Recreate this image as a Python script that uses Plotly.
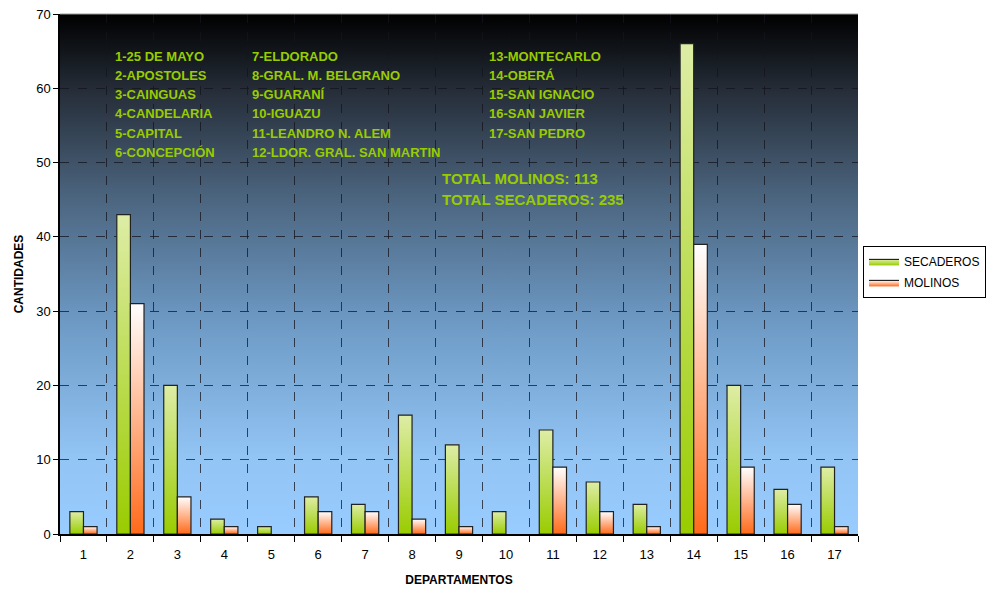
import base64
import plotly.graph_objects as go

departamentos = [str(i) for i in range(1, 18)]
secaderos = [3, 43, 20, 2, 1, 5, 4, 16, 12, 3, 14, 7, 4, 66, 20, 6, 9]
molinos = [1, 31, 5, 1, 0, 3, 3, 2, 1, 0, 9, 3, 1, 39, 9, 4, 1]
nombres_col1 = ["1-25 DE MAYO", "2-APOSTOLES", "3-CAINGUAS", "4-CANDELARIA", "5-CAPITAL", "6-CONCEPCIÓN"]
nombres_col2 = ["7-ELDORADO", "8-GRAL. M. BELGRANO", "9-GUARANÍ", "10-IGUAZU", "11-LEANDRO N. ALEM", "12-LDOR. GRAL. SAN MARTIN"]
nombres_col3 = ["13-MONTECARLO", "14-OBERÁ", "15-SAN IGNACIO", "16-SAN JAVIER", "17-SAN PEDRO"]
totales = ["TOTAL MOLINOS: 113", "TOTAL SECADEROS: 235"]

FONT = "Arial, Liberation Sans, sans-serif"
W = 0.29  # bar width in category units

fig = go.Figure()

series = [
    ("SECADEROS", secaderos, -W, "#99cc00", "#deeda6"),
    ("MOLINOS", molinos, 0.0, "#ff6a1a", "#ffffff"),
]
for name, vals, off, bottom, top in series:
    first = True
    for i, v in enumerate(vals):
        c = i + 1
        if v <= 0:
            continue
        x0, x1 = c + off, c + off + W
        fig.add_trace(go.Scatter(
            x=[x0, x0, x1, x1, x0], y=[0, v, v, 0, 0],
            mode="lines", fill="toself",
            fillgradient=dict(type="vertical", start=0, stop=v,
                              colorscale=[[0, bottom], [1, top]]),
            line=dict(color="#222222", width=1.2),
            name=name, legendgroup=name, showlegend=first,
            hoverinfo="text", text=f"{name}: {v}",
        ))
        first = False

svg = """<svg xmlns='http://www.w3.org/2000/svg' width='100' height='100' preserveAspectRatio='none'>
<defs><linearGradient id='g' x1='0' y1='0' x2='0' y2='1'>
<stop offset='0' stop-color='#000000'/>
<stop offset='0.15' stop-color='#262e39'/>
<stop offset='0.35' stop-color='#4b647e'/>
<stop offset='0.6' stop-color='#6e9bc6'/>
<stop offset='0.85' stop-color='#92c4f4'/>
<stop offset='1' stop-color='#99ccff'/>
</linearGradient></defs>
<rect width='100' height='100' fill='url(#g)'/></svg>"""
src = "data:image/svg+xml;base64," + base64.b64encode(svg.encode()).decode()
fig.add_layout_image(dict(source=src, xref="paper", yref="paper", x=0, y=1,
                          sizex=1, sizey=1, xanchor="left", yanchor="top",
                          sizing="stretch", layer="below"))

annots = []
x_cols = [(113 - 60) / 798, (250 - 60) / 798, (487 - 60) / 798]
for col, labels in zip(x_cols, [nombres_col1, nombres_col2, nombres_col3]):
    for j, t in enumerate(labels):
        annots.append(dict(x=col, y=0.919 - j * 0.0371, xref="paper", yref="paper",
                           text=f"<b>{t}</b>", showarrow=False, xanchor="left", yanchor="middle",
                           font=dict(family=FONT, size=13, color="#99cc00")))
for j, t in enumerate(totales):
    annots.append(dict(x=(440 - 60) / 798, y=0.6846 - j * 0.0404, xref="paper", yref="paper",
                       text=f"<b>{t}</b>", showarrow=False, xanchor="left", yanchor="middle",
                       font=dict(family=FONT, size=15, color="#99cc00")))

fig.update_layout(
    width=988, height=591,
    margin=dict(l=60, r=130, t=14, b=57, autoexpand=False),
    paper_bgcolor="white", plot_bgcolor="rgba(0,0,0,0)",
    font=dict(family=FONT, size=13, color="black"),
    annotations=annots,
    showlegend=True,
    legend=dict(x=1.0063, y=0.504, xanchor="left", yanchor="middle",
                bordercolor="black", borderwidth=1, bgcolor="white",
                font=dict(family=FONT, size=12), tracegroupgap=2, itemwidth=30),
    xaxis=dict(range=[0.5, 17.5], tickmode="array", tickvals=list(range(1, 18)),
               ticktext=departamentos, ticks="", showgrid=False, zeroline=False,
               showline=True, linecolor="black", linewidth=1.5, automargin=False,
               ticklabeloverflow="allow", ticklabelstandoff=8,
               minor=dict(tick0=0.5, dtick=1, ticks="outside", ticklen=6, tickcolor="black",
                          showgrid=True, gridcolor="rgba(20,20,30,0.75)", griddash="dash", gridwidth=1),
               tickfont=dict(size=13),
               title=dict(text="<b>DEPARTAMENTOS</b>", font=dict(size=12), standoff=14)),
    yaxis=dict(range=[0, 70], dtick=10, ticks="outside", ticklen=5, tickcolor="black",
               showgrid=True, gridcolor="rgba(20,20,30,0.75)", griddash="dash", gridwidth=1,
               zeroline=False, showline=True, linecolor="black", linewidth=1.5, automargin=False,
               ticklabeloverflow="allow",
               tickfont=dict(size=13),
               title=dict(text="<b>CANTIDADES</b>", font=dict(size=12), standoff=10)),
)
fig.add_shape(type="line", xref="paper", yref="paper", x0=0, x1=1, y0=1, y1=1,
              line=dict(color="#999999", width=1))

fig.write_html(
    "out.html",
    config={"displayModeBar": False},
    post_script="document.body.style.margin='0';document.body.style.overflow='hidden';"
                "document.documentElement.style.overflow='hidden';",
)
